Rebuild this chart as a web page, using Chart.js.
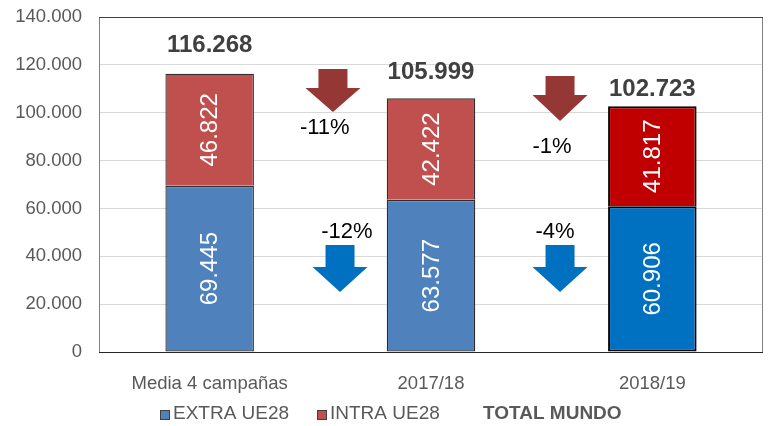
<!DOCTYPE html>
<html>
<head>
<meta charset="utf-8">
<script src="https://cdn.jsdelivr.net/npm/chart.js@4/dist/chart.umd.min.js"></script>
<style>html,body{margin:0;padding:0;background:#fff}canvas{display:block}</style>
</head>
<body>
<canvas id="c" width="770" height="426"></canvas>
<script>
const categories = ['Media 4 campañas', '2017/18', '2018/19'];
const extraUE28 = [69445, 63577, 60906];
const intraUE28 = [46822, 42422, 41817];
const totalMundo = [116268, 105999, 102723];
const intraChange = ['-11%', '-1%'];
const extraChange = ['-12%', '-4%'];
const yTickMin = 0, yTickMax = 140000, yTickStep = 20000;

const fmt = v => String(Math.round(v)).replace(/\B(?=(\d{3})+(?!\d))/g, '.');
const FONT = '"Liberation Sans", Arial, sans-serif';

const overlay = {
  id: 'overlay',
  beforeDraw(chart) {
    const ctx = chart.ctx;
    ctx.save(); ctx.fillStyle = '#fff'; ctx.fillRect(0, 0, chart.width, chart.height); ctx.restore();
  },
  beforeDatasetsDraw(chart) {
    const {ctx, chartArea: a} = chart;
    ctx.save();
    ctx.lineWidth = 1;
    ctx.strokeStyle = '#808080';
    ctx.beginPath(); ctx.moveTo(a.left + 0.5, a.top); ctx.lineTo(a.left + 0.5, a.bottom); ctx.stroke();
    ctx.beginPath(); ctx.moveTo(a.right - 0.5, a.top); ctx.lineTo(a.right - 0.5, a.bottom); ctx.stroke();
    ctx.strokeStyle = '#404040';
    ctx.beginPath(); ctx.moveTo(a.left, a.top + 0.5); ctx.lineTo(a.right, a.top + 0.5); ctx.stroke();
    ctx.strokeStyle = '#262626';
    ctx.beginPath(); ctx.moveTo(a.left, a.bottom + 0.5); ctx.lineTo(a.right, a.bottom + 0.5); ctx.stroke();
    ctx.restore();
  },
  afterDatasetsDraw(chart) {
    const ctx = chart.ctx;
    const xs = chart.scales.x, ys = chart.scales.y;
    ctx.save();
    [0, 1].forEach(di => {
      const meta = chart.getDatasetMeta(di);
      meta.data.forEach((bar, i) => {
        const cy = (bar.y + bar.base) / 2;
        ctx.save();
        ctx.translate(bar.x, cy);
        ctx.rotate(-Math.PI / 2);
        ctx.fillStyle = '#fff';
        ctx.font = '24px ' + FONT;
        ctx.textAlign = 'center'; ctx.textBaseline = 'middle';
        ctx.fillText(fmt(chart.data.datasets[di].data[i]), 0, 1);
        ctx.restore();
      });
    });
    const offs = [28, 26, 17];
    const meta1 = chart.getDatasetMeta(1);
    ctx.font = 'bold 24px ' + FONT;
    ctx.fillStyle = '#404040';
    ctx.textAlign = 'center'; ctx.textBaseline = 'middle';
    totalMundo.forEach((t, i) => {
      const x = meta1.data[i].x;
      ctx.fillText(fmt(t), x, ys.getPixelForValue(t) - offs[i]);
    });
    function arrow(cx, top, bottom, shaftBottom, color) {
      const sw = 14.5, hw = 27.5;
      ctx.fillStyle = color;
      ctx.beginPath();
      ctx.moveTo(cx - sw, top); ctx.lineTo(cx + sw, top); ctx.lineTo(cx + sw, shaftBottom);
      ctx.lineTo(cx + hw, shaftBottom); ctx.lineTo(cx, bottom); ctx.lineTo(cx - hw, shaftBottom);
      ctx.lineTo(cx - sw, shaftBottom); ctx.closePath(); ctx.fill();
    }
    const redArrows = [{x: 0.557, top: 118300, bottom: 100300}, {x: 1.583, top: 115300, bottom: 96500}];
    const blueArrows = [{x: 0.589, top: 44700, bottom: 25100}, {x: 1.583, top: 44700, bottom: 25100}];
    redArrows.forEach(a => {
      const t = ys.getPixelForValue(a.top), b = ys.getPixelForValue(a.bottom);
      arrow(xs.getPixelForValue(a.x), t, b, t + 19, '#953735');
    });
    blueArrows.forEach(a => {
      const t = ys.getPixelForValue(a.top), b = ys.getPixelForValue(a.bottom);
      arrow(xs.getPixelForValue(a.x), t, b, t + 22, '#0070C0');
    });
    ctx.font = '22px ' + FONT;
    ctx.fillStyle = '#000';
    const intraPos = [{x: 0.52, y: 93600}, {x: 1.547, y: 85700}];
    const extraPos = [{x: 0.62, y: 50100}, {x: 1.56, y: 50100}];
    intraChange.forEach((s, i) => ctx.fillText(s, xs.getPixelForValue(intraPos[i].x), ys.getPixelForValue(intraPos[i].y)));
    extraChange.forEach((s, i) => ctx.fillText(s, xs.getPixelForValue(extraPos[i].x), ys.getPixelForValue(extraPos[i].y)));
    const ly = 414;
    ctx.font = '19px ' + FONT;
    ctx.textAlign = 'left';
    ctx.lineWidth = 1;
    [[160, '#4F81BD', 'EXTRA UE28'], [317, '#C0504D', 'INTRA UE28']].forEach(([x, c, t]) => {
      ctx.fillStyle = c; ctx.fillRect(x + 0.5, ly - 3.5, 9, 9);
      ctx.strokeStyle = '#404040'; ctx.strokeRect(x + 0.5, ly - 3.5, 9, 9);
      ctx.fillStyle = '#595959'; ctx.fillText(t, x + 13, ly);
    });
    ctx.font = 'bold 19px ' + FONT;
    ctx.fillStyle = '#595959';
    ctx.fillText('TOTAL MUNDO', 483, ly);
    ctx.restore();
  }
};

new Chart(document.getElementById('c'), {
  type: 'bar',
  data: {
    labels: categories,
    datasets: [
      {label: 'EXTRA UE28', data: extraUE28,
       backgroundColor: ['#4F81BD', '#4F81BD', '#0070C0'],
       borderColor: ['#2f2f2f', '#2f2f2f', '#000000'], borderWidth: [1.3, 1.3, 2], borderSkipped: false,
       barPercentage: 0.4, categoryPercentage: 1},
      {label: 'INTRA UE28', data: intraUE28,
       backgroundColor: ['#C0504D', '#C0504D', '#C00000'],
       borderColor: ['#2f2f2f', '#2f2f2f', '#000000'], borderWidth: [1.3, 1.3, 2], borderSkipped: 'bottom',
       barPercentage: 0.4, categoryPercentage: 1}
    ]
  },
  options: {
    responsive: false,
    animation: false,
    layout: {padding: {left: 0, right: 7, top: 17, bottom: 0}},
    plugins: {legend: {display: false}, tooltip: {enabled: false}},
    scales: {
      x: {
        stacked: true,
        grid: {display: false},
        border: {display: false},
        ticks: {color: '#595959', font: {family: FONT, size: 18.5}, padding: 13, maxRotation: 0},
        afterFit(s) { s.height = 74; }
      },
      y: {
        stacked: true,
        min: yTickMin, max: yTickMax,
        grid: {color: '#D9D9D9', drawTicks: true, tickLength: 17, tickColor: 'rgba(0,0,0,0)'},
        border: {display: false},
        ticks: {stepSize: yTickStep, color: '#595959', font: {family: FONT, size: 18.5}, padding: 0,
                callback: v => fmt(v)},
        afterFit(s) { s.width = 99; }
      }
    }
  },
  plugins: [overlay]
});
</script>
</body>
</html>
